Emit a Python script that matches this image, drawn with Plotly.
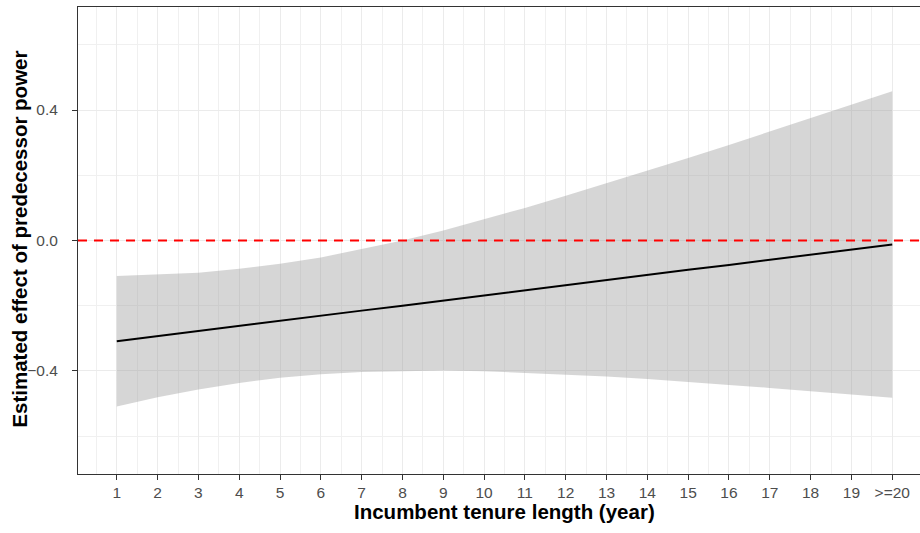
import plotly.graph_objects as go

# Incumbent tenure (years); the last bin collects 20 years and above
tenure = list(range(1, 21))
tick_labels = [str(t) for t in range(1, 20)] + [">=20"]

# Marginal effect of predecessor power and its 95% confidence band
effect = [-0.309, -0.293, -0.278, -0.262, -0.246, -0.231, -0.215, -0.200, -0.184, -0.168,
          -0.153, -0.137, -0.121, -0.106, -0.090, -0.075, -0.059, -0.043, -0.028, -0.012]
ci_upper = [-0.109, -0.105, -0.099, -0.087, -0.071, -0.052, -0.027, 0.000, 0.031, 0.065,
            0.100, 0.137, 0.175, 0.213, 0.253, 0.293, 0.334, 0.375, 0.416, 0.458]
ci_lower = [-0.509, -0.481, -0.457, -0.437, -0.421, -0.410, -0.403, -0.400, -0.399, -0.401,
            -0.406, -0.411, -0.417, -0.425, -0.433, -0.443, -0.452, -0.461, -0.472, -0.482]

y_ticks = [-0.4, 0.0, 0.4]
y_minor = [-0.6, -0.2, 0.2, 0.6]
x_minor = [t + 0.5 for t in range(0, 20)]

FONT = "Liberation Sans, Arial, sans-serif"

fig = go.Figure()

fig.add_trace(go.Scatter(x=tenure, y=ci_lower, mode="lines", line=dict(width=0),
                         hoverinfo="skip", showlegend=False))
fig.add_trace(go.Scatter(x=tenure, y=ci_upper, mode="lines", line=dict(width=0),
                         fill="tonexty", fillcolor="rgba(153,153,153,0.4)",
                         hoverinfo="skip", showlegend=False))
fig.add_trace(go.Scatter(x=tenure, y=effect, mode="lines",
                         line=dict(color="black", width=2), showlegend=False))

# reference line at zero effect
fig.add_shape(type="line", xref="paper", yref="y", x0=0, x1=1, y0=0, y1=0,
              line=dict(color="red", width=2, dash="9px,7px"), layer="above")

fig.update_layout(
    width=920, height=533,
    margin=dict(l=78, r=0, t=7, b=59),
    paper_bgcolor="white", plot_bgcolor="white",
    font=dict(family=FONT, size=15.5, color="#4d4d4d"),
    showlegend=False,
    xaxis=dict(
        range=[0.05, 20.68],
        tickmode="array", tickvals=tenure, ticktext=tick_labels,
        ticks="outside", ticklen=5, tickwidth=1.1, tickcolor="#333333",
        showline=True, linecolor="#333333", linewidth=1.1, mirror=True,
        showgrid=True, gridcolor="#ebebeb", gridwidth=1.1,
        minor=dict(tickmode="array", tickvals=x_minor, showgrid=True,
                   gridcolor="#f0f0f0", gridwidth=0.8, ticklen=0),
        zeroline=False,
        ticklabelstandoff=-1,
        tickfont=dict(family=FONT, size=15.5, color="#4d4d4d"),
    ),
    yaxis=dict(
        range=[-0.716, 0.716],
        tickmode="array", tickvals=y_ticks, ticktext=["\u22120.4", "0.0", "0.4"],
        ticks="outside", ticklen=5, tickwidth=1.1, tickcolor="#333333",
        showline=True, linecolor="#333333", linewidth=1.1, mirror=False,
        showgrid=True, gridcolor="#ebebeb", gridwidth=1.1,
        minor=dict(tickmode="array", tickvals=y_minor, showgrid=True,
                   gridcolor="#f0f0f0", gridwidth=0.8, ticklen=0),
        zeroline=False,
        ticklabelstandoff=11,
        tickfont=dict(family=FONT, size=15.5, color="#4d4d4d"),
    ),
    annotations=[
        dict(text="<b>Incumbent tenure length (year)</b>", xref="paper", yref="paper",
             x=0.506, y=-0.0795, xanchor="center", yanchor="middle", showarrow=False,
             font=dict(family=FONT, size=20.5, color="black")),
        dict(text="<b>Estimated effect of predecessor power</b>", xref="paper", yref="paper",
             x=-0.0689, y=0.504, xanchor="center", yanchor="middle", textangle=-90,
             showarrow=False, font=dict(family=FONT, size=20.5, color="black")),
    ],
)

fig.write_html("out.html")
